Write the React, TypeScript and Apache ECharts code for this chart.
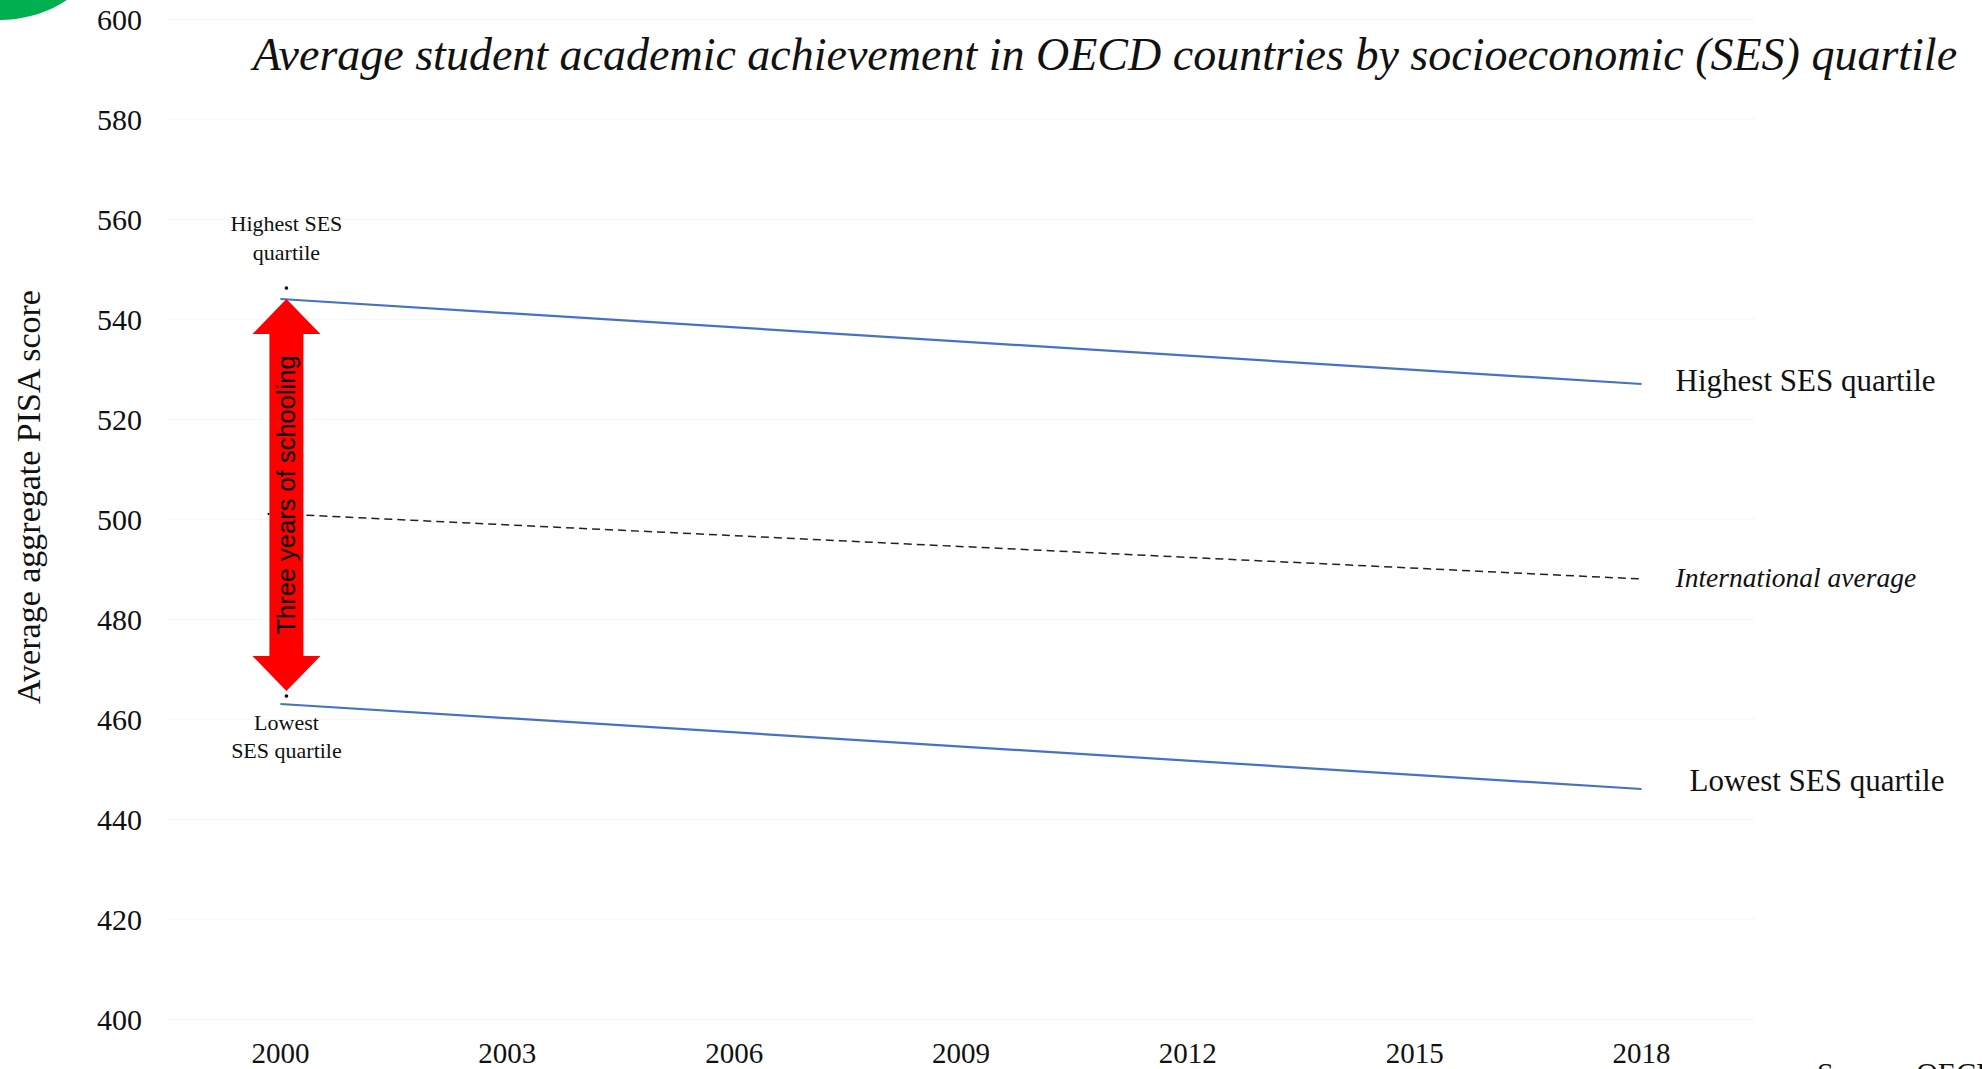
import React, { useEffect, useRef } from "react";
import * as echarts from "echarts";

const years = ["2000", "2003", "2006", "2009", "2012", "2015", "2018"];
const highestSES: [string, number][] = [["2000", 544], ["2018", 527]];
const intlAverage: [string, number][] = [["2000", 501], ["2018", 488]];
const lowestSES: [string, number][] = [["2000", 463], ["2018", 446]];
const yMin = 400;
const yMax = 600;
const yStep = 20;

const SERIF = "Liberation Serif";
const SANS = "Liberation Sans";

export default function App() {
  const ref = useRef<HTMLDivElement>(null);
  useEffect(() => {
    if (!ref.current) return;
    const chart = echarts.init(ref.current, null, { renderer: "svg" });
    chart.setOption({
      animation: false,
      backgroundColor: "#ffffff",
      title: {
        text: "Average student academic achievement in OECD countries by socioeconomic (SES) quartile",
        left: 253,
        top: 31,
        padding: 0,
        textStyle: { fontFamily: SERIF, fontStyle: "italic", fontWeight: "normal", fontSize: 46, color: "#111" },
      },
      grid: { left: 167, right: 227, top: 19, bottom: 50, containLabel: false },
      xAxis: {
        type: "category",
        data: years,
        boundaryGap: true,
        axisLine: { show: false },
        axisTick: { show: false },
        axisLabel: { fontFamily: SERIF, fontSize: 29, color: "#111", margin: 19 },
        splitLine: { show: false },
      },
      yAxis: {
        type: "value",
        min: yMin,
        max: yMax,
        interval: yStep,
        axisLine: { show: false },
        axisTick: { show: false },
        axisLabel: { fontFamily: SERIF, fontSize: 30, color: "#111", margin: 25 },
        splitLine: { show: true, lineStyle: { color: "#f7f7f7", width: 1 } },
      },
      series: [
        {
          name: "Highest SES quartile",
          type: "line",
          data: highestSES,
          symbol: "none",
          lineStyle: { color: "#4472C4", width: 2.2 },
          endLabel: { show: true, formatter: "Highest SES quartile", distance: 34, offset: [0, -4], fontFamily: SERIF, fontSize: 31, color: "#111" },
        },
        {
          name: "International average",
          type: "line",
          data: intlAverage,
          symbol: "none",
          lineStyle: { color: "#222", width: 1.5, type: [8, 5] },
          endLabel: { show: true, formatter: "International average", distance: 34, offset: [0, -2], fontFamily: SERIF, fontStyle: "italic", fontSize: 27.5, color: "#111" },
        },
        {
          name: "Lowest SES quartile",
          type: "line",
          data: lowestSES,
          symbol: "none",
          lineStyle: { color: "#4472C4", width: 2.2 },
          endLabel: { show: true, formatter: "Lowest SES quartile", distance: 48, offset: [0, -9], fontFamily: SERIF, fontSize: 31, color: "#111" },
        },
      ],
    });

    const p = (d: [string, number]) => chart.convertToPixel({ gridIndex: 0 }, d) as number[];
    const hi = p(highestSES[0]);
    const lo = p(lowestSES[0]);
    const av = p(intlAverage[0]);
    const cx = hi[0] + 6;
    const yT = hi[1];
    const yB = lo[1] - 13;
    const hh = 35, hw = 34, sw = 17;
    chart.setOption({
      graphic: [
        {
          type: "circle",
          shape: { cx: 0, cy: 0, r: 122 },
          x: 0,
          y: -102,
          style: { fill: "#00B050" },
          silent: true,
        },
        {
          type: "polygon",
          shape: {
            points: [
              [cx, yT], [cx + hw, yT + hh], [cx + sw, yT + hh], [cx + sw, yB - hh], [cx + hw, yB - hh],
              [cx, yB], [cx - hw, yB - hh], [cx - sw, yB - hh], [cx - sw, yT + hh], [cx - hw, yT + hh],
            ],
          },
          style: { fill: "#FF0000" },
          z: 10,
        },
        {
          type: "text",
          x: cx,
          y: (yT + yB) / 2,
          rotation: Math.PI / 2,
          z: 11,
          style: { text: "Three years of schooling", fontFamily: SANS, fontSize: 25.5, fill: "#000", align: "center", verticalAlign: "middle" },
        },
        { type: "circle", shape: { cx: cx, cy: yT - 11, r: 1.8 }, style: { fill: "#000" }, z: 11 },
        { type: "circle", shape: { cx: cx, cy: yB + 5, r: 1.8 }, style: { fill: "#000" }, z: 11 },
        { type: "circle", shape: { cx: av[0] - 12, cy: av[1], r: 1 }, style: { fill: "#000" }, z: 11 },
        {
          type: "text",
          x: cx,
          y: yT - 32,
          z: 11,
          style: { text: "Highest SES\nquartile", fontFamily: SERIF, fontSize: 22, lineHeight: 29, fill: "#111", align: "center", verticalAlign: "bottom" },
        },
        {
          type: "text",
          x: cx,
          y: lo[1] + 4,
          z: 11,
          style: { text: "Lowest\nSES quartile", fontFamily: SERIF, fontSize: 22, lineHeight: 28, fill: "#111", align: "center", verticalAlign: "top" },
        },
        {
          type: "text",
          x: 28,
          y: 497,
          rotation: Math.PI / 2,
          style: { text: "Average aggregate PISA score", fontFamily: SERIF, fontSize: 34, fill: "#111", align: "center", verticalAlign: "middle" },
        },
        {
          type: "text",
          x: 1817,
          y: 1057,
          style: { text: "Source: OECD", fontFamily: SERIF, fontSize: 30, fill: "#111", align: "left", verticalAlign: "top" },
        },
      ],
    });
    return () => chart.dispose();
  }, []);
  return <div ref={ref} style={{ position: "fixed", left: 0, top: 0, width: 1982, height: 1069 }} />;
}
